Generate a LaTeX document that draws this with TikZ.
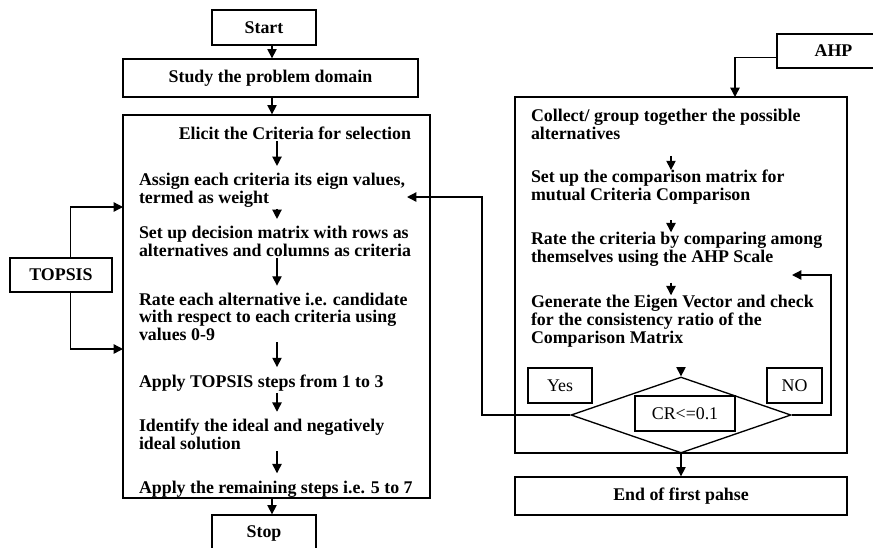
\documentclass[tikz,border=0pt]{standalone}
\usepackage{fontspec}
\setmainfont{Liberation Serif}
\usetikzlibrary{positioning,shapes.geometric,arrows.meta}

\begin{document}
\begin{tikzpicture}[
x=0.75pt,y=-0.75pt,
line width=1pt,
frame/.style={
  draw,
  inner sep=0pt,
  font=\fontsize{13.4}{15}\selectfont\bfseries
},
flag/.style={
  draw,
  inner sep=0pt,
  font=\fontsize{13.4}{15}\selectfont
},
stepl/.style={
  inner sep=1pt,
  align=left,
  anchor=base west,
  font=\fontsize{13.4}{13}\selectfont\bfseries
},
stepr/.style={
  stepl,
  font=\fontsize{13.4}{13.5}\selectfont\bfseries
},
arr/.style={-{Triangle[width=7pt,length=7pt]}},
decision/.style={
  draw,
  diamond,
  aspect=2.9,
  minimum width=165pt,
  minimum height=57pt,
  inner sep=0pt
}
]
\useasboundingbox (0,0) rectangle (873,547);

% TOPSIS side
\node[frame, minimum width=78pt, minimum height=26.25pt] at (264,27.5)
  (start) {Start};
\node[frame, minimum width=221.25pt, minimum height=28.5pt] at (270.5,78)
  (study) {Study the problem domain};
\node[frame, minimum width=230.25pt, minimum height=287.25pt] at (276.5,306.5)
  (lbox) {};
\node[frame, minimum width=78pt, minimum height=27.75pt] at (264,533.5)
  (stop) {Stop};
\node[frame, minimum width=76.5pt, minimum height=25.5pt] at (61,275)
  (topsis) {TOPSIS};

% steps are anchored on their last line
\node[stepl, anchor=base east] at (413,139)
  (l1) {Elicit the Criteria for selection};
\node[stepl] at (137,203)
  (l2) {Assign each criteria its eign values,\\termed as weight};
\node[stepl] at (137,256)
  (l3) {Set up decision matrix with rows as\\alternatives and columns as criteria};
\node[stepl] at (137,340)
  (l4) {Rate each alternative i.e. candidate\\with respect to each criteria using\\values 0-9};
\node[stepl] at (137,387)
  (l5) {Apply TOPSIS steps from 1 to 3};
\node[stepl] at (137,449)
  (l6) {Identify the ideal and negatively\\ideal solution};
\node[stepl] at (137,493)
  (l7) {Apply the remaining steps i.e. 5 to 7};

% AHP side
\node[frame, minimum width=84.75pt, minimum height=25.5pt] at (833.5,51)
  (ahp) {AHP};
\node[frame, minimum width=249pt, minimum height=267pt] at (681,275)
  (rbox) {};
\node[frame, minimum width=249pt, minimum height=28.5pt] at (681,496)
  (end) {End of first pahse};

\node[stepr] at (529,139)
  (r1) {Collect/ group together the possible\\alternatives};
\node[stepr] at (529,200)
  (r2) {Set up the comparison matrix for\\mutual Criteria Comparison};
\node[stepr] at (529,262)
  (r3) {Rate the criteria by comparing among\\themselves using the AHP Scale};
\node[stepr] at (529,343)
  (r4) {Generate the Eigen Vector and check\\for the consistency ratio of the\\Comparison Matrix};

\node[decision] at (681,415) (cr) {};
\node[flag, minimum width=75pt, minimum height=26.25pt] at (685,413.5)
  (crbox) {CR<=0.1};
\node[flag, minimum width=48pt, minimum height=26.25pt] at (560,385.5)
  (yes) {Yes};
\node[flag, minimum width=41.25pt, minimum height=26.25pt] at (794.5,385.5)
  (no) {NO};

% connectors
\coordinate (spine) at (272,0);
\coordinate (laxis) at (277,0);
\coordinate (raxis) at (671,0);

\draw[arr] (start.south -| spine) -- (study.north -| spine);
\draw[arr] (study.south -| spine) -- (lbox.north -| spine);
\draw[arr] (lbox.south -| spine) -- (stop.north -| spine);

\foreach \a/\b in {l1/l2,l2/l3,l3/l4,l4/l5,l5/l6,l6/l7}
  \draw[arr, shorten >=4pt] (\a.south -| laxis) -- (\b.north -| laxis);
\foreach \a/\b in {r1/r2,r2/r3,r3/r4}
  \draw[arr, shorten <=11pt, shorten >=-2pt] (\a.south -| raxis) -- (\b.north -| raxis);

\coordinate (tin1) at (123,207);
\coordinate (tin2) at (123,349);
\draw[arr] ([xshift=7pt]topsis.north) |- (tin1);
\draw[arr] ([xshift=7pt]topsis.south) |- (tin2);

\coordinate (ahpdrop) at (735,97);
\draw[arr] ([yshift=-5pt]ahp.west) -| (ahpdrop);

\draw[arr, shorten <=13.5pt] (r4.south -| cr.north) -- (cr.north);
\draw[arr] (cr.south) -- (end.north);

\coordinate (yesturn) at (482,197);
\coordinate (wtin) at (407,197);
\draw[arr] (cr.west) -| (yesturn) -- (wtin);
\coordinate (noturn) at (831,275);
\coordinate (scin) at (792,275);
\draw[arr] (cr.east) -| (noturn) -- (scin);

\end{tikzpicture}
\end{document}
